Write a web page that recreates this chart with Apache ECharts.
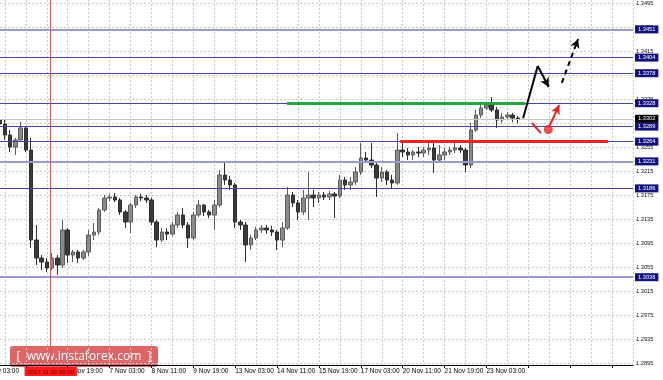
<!DOCTYPE html>
<html><head><meta charset="utf-8">
<script src="https://cdn.jsdelivr.net/npm/echarts@6/dist/echarts.min.js"></script>
<style>html,body{margin:0;padding:0;background:#fff}#c{width:663px;height:380px}</style>
</head><body><div id="c"></div>
<script>
// ---- data ----
const tickLabels = ['1 Nov 03:00','2 Nov 11:00','3 Nov 19:00','7 Nov 03:00','8 Nov 11:00','9 Nov 19:00','13 Nov 03:00','14 Nov 11:00','15 Nov 19:00','17 Nov 03:00','20 Nov 11:00','21 Nov 19:00','23 Nov 03:00'];
const priceTicks = [1.2895,1.2935,1.2975,1.3015,1.3055,1.3095,1.3135,1.3175,1.3215,1.3255,1.3295,1.3335,1.3375,1.3415,1.3455,1.3495];
const slotCount = 125;       // 4-hour slots on the time axis
const firstCandleSlot = 3;
// [open, close, low, high]
const ohlc = [
[1.33000,1.32933,1.32883,1.33133],[1.32933,1.32750,1.32667,1.33000],[1.32750,1.32550,1.32467,1.32833],[1.32550,1.32667,1.32417,1.32700],
[1.32667,1.32867,1.32633,1.32967],[1.32867,1.32500,1.32467,1.32900],[1.32500,1.31000,1.30867,1.32700],[1.31000,1.30700,1.30583,1.31250],
[1.30700,1.30633,1.30500,1.30750],[1.30633,1.30533,1.30467,1.30700],[1.30533,1.30700,1.30500,1.30783],[1.30700,1.30583,1.30417,1.30750],
[1.30583,1.31167,1.30533,1.31333],[1.31167,1.30750,1.30617,1.31200],[1.30750,1.30800,1.30633,1.30833],[1.30800,1.30700,1.30617,1.30833],
[1.30700,1.30800,1.30667,1.30833],[1.30800,1.31083,1.30733,1.31167],[1.31083,1.31133,1.31000,1.31283],[1.31133,1.31500,1.31083,1.31533],
[1.31500,1.31700,1.31467,1.31750],[1.31700,1.31717,1.31650,1.31767],[1.31717,1.31667,1.31633,1.31783],[1.31667,1.31467,1.31417,1.31700],
[1.31467,1.31300,1.31200,1.31500],[1.31300,1.31583,1.31117,1.31617],[1.31583,1.31717,1.31533,1.31750],[1.31717,1.31700,1.31650,1.31767],
[1.31700,1.31667,1.31617,1.31750],[1.31667,1.31300,1.31250,1.31700],[1.31300,1.31000,1.30883,1.31333],[1.31000,1.31133,1.30967,1.31200],
[1.31133,1.31100,1.31000,1.31200],[1.31100,1.31250,1.31067,1.31300],[1.31250,1.31417,1.31200,1.31467],[1.31417,1.31250,1.31200,1.31533],
[1.31250,1.31033,1.30867,1.31300],[1.31033,1.31417,1.31000,1.31467],[1.31417,1.31583,1.31383,1.31667],[1.31583,1.31467,1.31400,1.31600],
[1.31467,1.31417,1.31367,1.31500],[1.31417,1.31583,1.31167,1.31667],[1.31583,1.32083,1.31550,1.32167],[1.32083,1.32000,1.31917,1.32300],
[1.32000,1.31917,1.31833,1.32067],[1.31917,1.31300,1.31200,1.31950],[1.31300,1.31250,1.31167,1.31333],[1.31250,1.30917,1.30633,1.31300],
[1.30917,1.31033,1.30833,1.31083],[1.31033,1.31167,1.31000,1.31217],[1.31167,1.31200,1.31117,1.31250],[1.31200,1.31167,1.31100,1.31250],
[1.31167,1.31133,1.31067,1.31233],[1.31133,1.31000,1.30833,1.31167],[1.31000,1.31200,1.30883,1.31300],[1.31200,1.31750,1.31167,1.31883],
[1.31750,1.31617,1.31550,1.31800],[1.31617,1.31467,1.31333,1.31667],[1.31467,1.31700,1.31417,1.31833],[1.31700,1.31750,1.31333,1.32133],
[1.31750,1.31700,1.31550,1.31833],[1.31700,1.31750,1.31617,1.31800],[1.31750,1.31717,1.31667,1.31800],[1.31717,1.31767,1.31667,1.31817],
[1.31767,1.31733,1.31367,1.31800],[1.31733,1.32000,1.31700,1.32083],[1.32000,1.31917,1.31833,1.32050],[1.31917,1.31967,1.31833,1.32050],
[1.31967,1.32133,1.31917,1.32217],[1.32133,1.32367,1.32083,1.32617],[1.32367,1.32333,1.32283,1.32467],[1.32333,1.32250,1.32200,1.32617],
[1.32250,1.32033,1.31717,1.32283],[1.32033,1.32133,1.31967,1.32217],[1.32133,1.32000,1.31917,1.32167],[1.32000,1.31950,1.31867,1.32083],
[1.31950,1.32500,1.31917,1.32783],[1.32500,1.32467,1.32383,1.32617],[1.32467,1.32417,1.32333,1.32533],[1.32417,1.32467,1.32333,1.32500],
[1.32467,1.32450,1.32383,1.32550],[1.32450,1.32500,1.32383,1.32550],[1.32500,1.32533,1.32417,1.32667],[1.32533,1.32333,1.32117,1.32617],
[1.32333,1.32417,1.32300,1.32583],[1.32417,1.32467,1.32333,1.32533],[1.32467,1.32500,1.32417,1.32550],[1.32500,1.32533,1.32450,1.32617],
[1.32533,1.32500,1.32450,1.32583],[1.32500,1.32250,1.32133,1.32533],[1.32250,1.32833,1.32200,1.32950],[1.32833,1.33083,1.32800,1.33167],
[1.33083,1.33200,1.33033,1.33283],[1.33200,1.33250,1.33167,1.33300],[1.33250,1.33167,1.33133,1.33383],[1.33167,1.33000,1.32867,1.33217],
[1.33000,1.33050,1.32950,1.33117],[1.33050,1.33083,1.33000,1.33133],[1.33083,1.33033,1.32967,1.33117],[1.33033,1.33017,1.32950,1.33067]
];
const levelsDark = [1.3404,1.3378,1.3328,1.3289,1.3264,1.3186];
const levelsLight = [1.3451,1.3231,1.3038];
const bidPrice = 1.3302;
const resistanceSeg = [[57.9,1.3328],[103.4,1.3328]];
const supportSeg = [[79.5,1.3264],[119.2,1.3264]];
const cursorSlot = 12.75;
const cursorLabel = '2017.11.03 06:00';
const bullPath = [[103.0,1.3303],[105.8,1.3390],[107.9,1.3355]];
const bullDashed = [[110.4,1.3362],[113.5,1.3435]];
const bearDash = [[104.7,1.3295],[106.4,1.3278]];
const bearDot = [107.8,1.3284];
const bearArrow = [[107.95,1.3288],[109.9,1.3325]];

// ---- build ----
const FONT = 'Liberation Sans';
const categories = Array.from({length: slotCount}, (_, i) => 'slot' + i);
const candleData = categories.map((_, i) => {
  const k = i - firstCandleSlot;
  return (k >= 0 && k < ohlc.length) ? ohlc[k] : '-';
});
const xMax = slotCount - 1;

function levelLine(v, color, width, box) {
  return [
    { coord: [0, v], symbol: 'none', lineStyle: { color, width, type: 'solid' },
      label: { show: true, position: 'end', formatter: v.toFixed(4), color: '#fff',
        backgroundColor: box, padding: [1, 3, 0, 3], fontSize: 5.7, lineHeight: 7,
        fontFamily: FONT, distance: 2 } },
    { coord: [xMax, v], symbol: 'none' }
  ];
}
function seg(a, b, color, width, type, arrow) {
  return [
    { coord: a, symbol: 'none', lineStyle: { color, width, type }, label: { show: false } },
    { coord: b, symbol: arrow ? 'arrow' : 'none', symbolSize: arrow ? [7, 9] : 0 }
  ];
}
const overlayMarks = [
  ...levelsLight.map(v => levelLine(v, '#9a9ad2', 2, '#12127e')),
  ...levelsDark.map(v => levelLine(v, '#4646aa', 1, '#12127e')),
  levelLine(bidPrice, '#c4c4c4', 1, '#000000'),
  seg(resistanceSeg[0], resistanceSeg[1], '#22a83e', 3, 'solid', false),
  seg(supportSeg[0], supportSeg[1], '#ee2222', 3, 'solid', false),
  seg(bullPath[0], bullPath[1], '#000', 2, 'solid', false),
  seg(bullPath[1], bullPath[2], '#000', 2, 'solid', true),
  seg(bullDashed[0], bullDashed[1], '#000', 2, [5, 4], true),
  seg(bearDash[0], bearDash[1], '#ee2222', 2, 'solid', false),
  seg(bearArrow[0], bearArrow[1], '#ee2222', 2, 'solid', true),
  { xAxis: cursorSlot, lineStyle: { color: '#ff4a4a', width: 1, type: 'solid' },
    label: { show: true, position: 'start', formatter: cursorLabel, color: '#5a0000',
      backgroundColor: '#ff1a1a', padding: [2, 3, 1, 3], fontSize: 6, fontFamily: FONT, distance: 2 } }
];

const chart = echarts.init(document.getElementById('c'), null, { renderer: 'canvas' });
chart.setOption({
  animation: false,
  backgroundColor: '#ffffff',
  grid: { left: -16, right: 30, top: 0, bottom: 15, containLabel: false, outerBoundsMode: 'none' },
  xAxis: [
    { type: 'category', data: categories, boundaryGap: false,
      axisLine: { show: true, lineStyle: { color: '#000', width: 1 } },
      axisTick: { show: true, interval: 7, length: 3, lineStyle: { color: '#000' } },
      axisLabel: { interval: 7, align: 'left', margin: 3, fontSize: 6.5, color: '#000', fontFamily: FONT,
        formatter: (v, i) => (i % 8 === 0 && tickLabels[i / 8]) ? tickLabels[i / 8] : '' },
      splitLine: { show: true, interval: 3, lineStyle: { color: '#c9c9c9', width: 1, type: [2, 2] } } },
    { type: 'value', min: 0, max: xMax, show: false }
  ],
  yAxis: {
    type: 'value', position: 'right', min: 1.35 - 365 / 6000, max: 1.35,
    axisLine: { show: true, lineStyle: { color: '#a0a0a0', width: 2 } },
    axisTick: { show: true, customValues: priceTicks, length: 2, lineStyle: { color: '#333' } },
    axisLabel: { customValues: priceTicks, formatter: v => Number(v).toFixed(4), fontSize: 5.7,
      color: '#111', margin: 3, fontFamily: FONT },
    splitLine: { show: true, lineStyle: { color: '#c9c9c9', width: 1, type: [2, 2] } }
  },
  series: [
    { type: 'candlestick', xAxisIndex: 0, data: candleData, barWidth: 4,
      itemStyle: { color: '#8a8a8a', color0: '#3a3a3a', borderColor: '#5c5c5c', borderColor0: '#2e2e2e', borderWidth: 1 } },
    { type: 'scatter', xAxisIndex: 1, data: [bearDot], symbolSize: 9, z: 5,
      itemStyle: { color: '#ee2222' }, silent: true,
      markLine: { silent: true, symbol: ['none', 'none'], animation: false, data: overlayMarks } }
  ],
  graphic: [{
    type: 'group', left: 10, top: 346, z: 100, silent: true,
    children: [
      { type: 'rect', shape: { x: 0, y: 0, width: 148, height: 21, r: 3 }, style: { fill: 'rgba(212,62,62,0.8)' } },
      { type: 'text', x: 74, y: 11, style: { text: '[  www.instaforex.com  ]', fill: '#ffffff',
        fontSize: 12, fontFamily: 'Open Sans', align: 'center', verticalAlign: 'middle' } }
    ]
  }]
});
</script>
</body></html>
